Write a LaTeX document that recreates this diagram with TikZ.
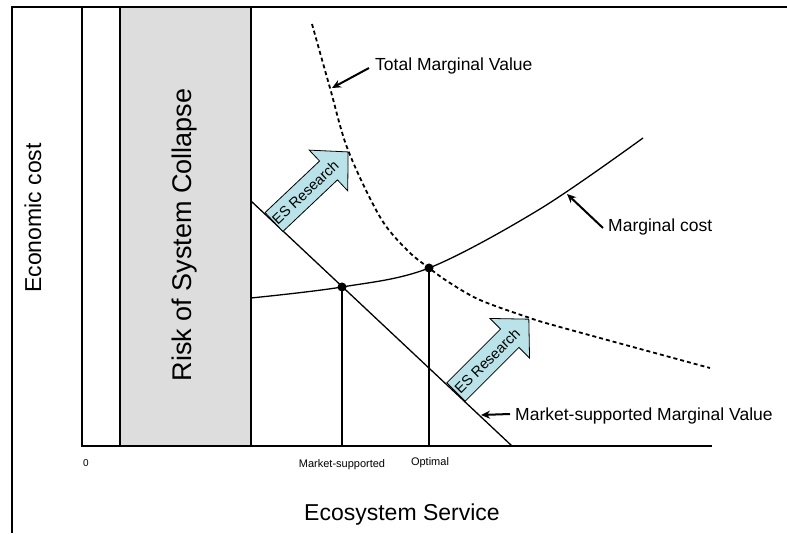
\documentclass[tikz,border=0pt]{standalone}
\usepackage{fontspec}
\setmainfont{Liberation Sans}
\usetikzlibrary{arrows.meta}
\definecolor{collapsegray}{RGB}{221,221,221}
\definecolor{researchcyan}{RGB}{185,227,232}
\begin{document}
\begin{tikzpicture}[x=1pt,y=1pt,
  frameline/.style={line width=2pt},
  axis/.style={line width=2pt},
  curve/.style={line width=1.3pt},
  dropline/.style={line width=1.2pt},
  tmvcurve/.style={line width=1.8pt, dash pattern=on 4pt off 3pt},
  pointer/.style={line width=2pt, -{Stealth[length=9pt,width=8pt]}},
  eqdot/.style={circle, fill=black, inner sep=0pt, minimum size=9pt},
  lbl/.style={font=\fontsize{17.5}{20}\selectfont, inner sep=0pt, anchor=west},
  axislbl/.style={font=\fontsize{23}{26}\selectfont, inner sep=0pt},
  ticklbl/.style={font=\fontsize{11}{13}\selectfont, inner sep=0pt},
  research/.style={draw=black, line width=0.8pt, fill=researchcyan, line join=miter},
  researchtxt/.style={font=\fontsize{14.5}{16}\selectfont, inner sep=0pt},
]
\useasboundingbox (0,0) rectangle (787,533);

% outer frame (left and top)
\draw[frameline] (12,0) -- (12,526) -- (787,526);

% region of collapse risk
\draw[line width=1.3pt, fill=collapsegray] (120,87) rectangle (251,526);
\node[axislbl, font=\fontsize{27}{30}\selectfont, rotate=90] (risk) at (185,298) {Risk of System Collapse};

% axes
\coordinate (origin) at (82,87);
\coordinate (ytop) at (82,526);
\coordinate (xend) at (712,87);
\draw[axis] (ytop) -- (origin) -- (xend);

% market-supported marginal value
\coordinate (msmvtop) at (251,332);
\coordinate (msmvbot) at (512,87);
\draw[curve] (msmvtop) -- (msmvbot);

% marginal cost
\draw[curve] plot[smooth, tension=0.55] coordinates {(251,235) (342,246) (429,265) (540,324) (643,395)};

% total marginal value
\draw[tmvcurve] plot[smooth, tension=0.55] coordinates {(312,509) (330,445) (348,383) (380,316) (407,283) (429,265) (450,250) (480,233) (527,216) (560,206) (710,165)};

% equilibrium points and drop lines
\node[eqdot] (msdot) at (342,246) {};
\node[eqdot] (optdot) at (429,265) {};
\coordinate (msfoot) at (342,87);
\coordinate (optfoot) at (429,87);
\draw[dropline] (msdot.center) -- (msfoot);
\draw[dropline] (optdot.center) -- (optfoot);

% research arrows
\begin{scope}[shift={(274,311)}, rotate=43.4]
  \draw[research] (0,-13) -- (75,-13) -- (75,-28) -- (102,0) -- (75,28) -- (75,13) -- (0,13) -- cycle;
  \node[researchtxt, rotate=43.4] (esr1) at (43,0) {ES Research};
\end{scope}
\begin{scope}[shift={(456,141)}, rotate=45]
  \draw[research] (0,-13) -- (76,-13) -- (76,-28) -- (103,0) -- (76,28) -- (76,13) -- (0,13) -- cycle;
  \node[researchtxt, rotate=45] (esr2) at (44,0) {ES Research};
\end{scope}

% curve labels with pointers
\node[lbl] (tmv) at (375,467) {Total Marginal Value};
\coordinate (tmvpt) at (332,445);
\draw[pointer] ([xshift=-6pt,yshift=-2pt]tmv.west) -- (tmvpt);

\node[lbl] (mc) at (608,306) {Marginal cost};
\coordinate (mcpt) at (567,339);
\draw[pointer] ([xshift=-5pt,yshift=-1pt]mc.west) -- (mcpt);

\node[lbl] (msmv) at (515,117) {Market-supported Marginal Value};
\coordinate (msmvpt) at (481,118);
\draw[pointer] ([xshift=-5pt,yshift=2pt]msmv.west) -- (msmvpt);

% axis labels
\node[axislbl, rotate=90] (ylbl) at (33,315) {Economic cost};
\node[axislbl] (xlbl) at (402,18) {Ecosystem Service};
\node[ticklbl, font=\fontsize{10}{12}\selectfont] (zero) at (86,70) {0};
\node[ticklbl] (mslbl) at (342,68) {Market-supported};
\node[ticklbl] (optlbl) at (430,70) {Optimal};
\end{tikzpicture}
\end{document}
